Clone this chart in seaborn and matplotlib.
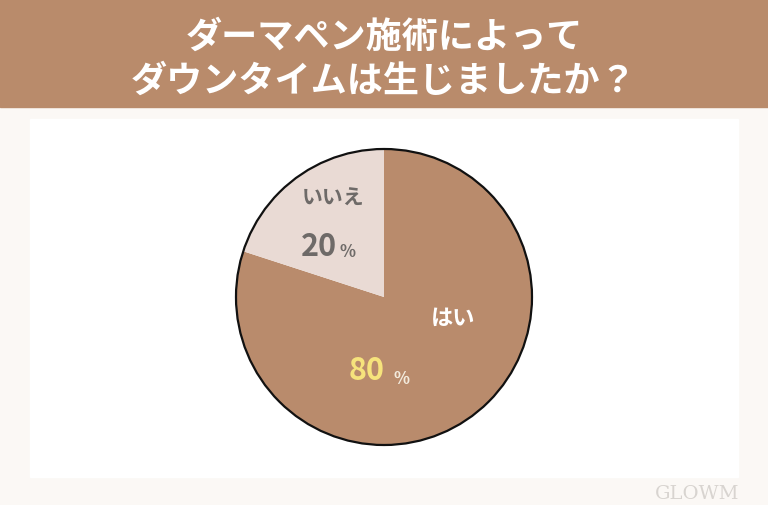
import matplotlib
matplotlib.use("Agg")
import matplotlib.pyplot as plt
import matplotlib.patches as mpatches
import seaborn as sns

title_lines = ["ダーマペン施術によって", "ダウンタイムは生じましたか？"]
categories = ["はい", "いいえ"]
values = [80, 20]
colors = ["#B98B6C", "#E9DAD4"]

sns.set_theme(style="white")
plt.rcParams['font.family'] = ['Noto Sans CJK JP', 'DejaVu Sans']

W, H = 768, 506
fig = plt.figure(figsize=(W / 100, H / 100), dpi=100)
fig.patch.set_facecolor("#FBF8F5")
ax = fig.add_axes([0, 0, 1, 1])
ax.set_xlim(0, W)
ax.set_ylim(0, H)
ax.set_aspect("equal")
ax.axis("off")

def Y(y):
    return H - y

# header band
ax.add_patch(mpatches.Rectangle((0, Y(108)), W, 108, color="#B98B6B", zorder=1))
# white panel
ax.add_patch(mpatches.Rectangle((30, Y(478)), 708, 478 - 120, color="#FFFFFF", zorder=1))

for i, line in enumerate(title_lines):
    ax.text(384, Y(37 + 44 * i), line, ha="center", va="center", color="white",
            fontsize=26, fontweight="bold", zorder=3)

cx, cy, r = 384, Y(298), 148
wedges, _ = ax.pie(values, colors=colors, startangle=90, counterclock=False,
                   center=(cx, cy), radius=r, frame=True,
                   wedgeprops=dict(linewidth=0, zorder=2))
ax.set_xlim(0, W)
ax.set_ylim(0, H)
ax.axis("off")
ax.add_patch(mpatches.Circle((cx, cy), r, fill=False, edgecolor="#111111", linewidth=1.6, zorder=3))

# labels
ax.text(333, Y(198), categories[1], ha="center", va="center", color="#6E6A68",
        fontsize=15, fontweight="bold", zorder=4)
ax.text(319, Y(247), f"{values[1]}", ha="center", va="center", color="#6E6A68",
        fontsize=22, fontweight="bold", zorder=4)
ax.text(347, Y(252), "%", ha="center", va="center", color="#6E6A68",
        fontsize=12, fontweight="bold", zorder=4)

ax.text(453, Y(318), categories[0], ha="center", va="center", color="white",
        fontsize=16, fontweight="bold", zorder=4)
ax.text(367, Y(371), f"{values[0]}", ha="center", va="center", color="#F6E37C",
        fontsize=22, fontweight="bold", zorder=4)
ax.text(402, Y(379), "%", ha="center", va="center", color="#F3EBDD",
        fontsize=12, fontweight="bold", zorder=4)

ax.text(697, Y(494), "GLOWM", ha="center", va="center", color="#D8D4D0",
        fontsize=14, family="DejaVu Serif", zorder=4)

fig.savefig("out.png", dpi=100)
